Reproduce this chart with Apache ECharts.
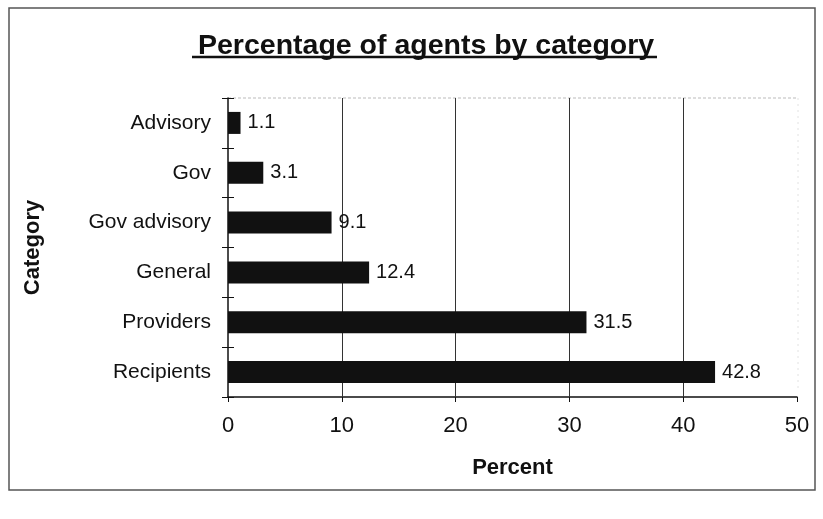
<!DOCTYPE html>
<html>
<head>
<meta charset="utf-8">
<script src="https://cdn.jsdelivr.net/npm/echarts@6/dist/echarts.min.js"></script>
<style>
  html, body { margin: 0; padding: 0; background: #fff; }
  #chart { width: 823px; height: 519px; }
</style>
</head>
<body>
<div id="chart"></div>
<script>
// Agent categories, top to bottom
const categories = ['Advisory', 'Gov', 'Gov advisory', 'General', 'Providers', 'Recipients'];
// Share of agents in each category (%)
const percents = [1.1, 3.1, 9.1, 12.4, 31.5, 42.8];
// Percent axis range
const xMin = 0;
const xMax = 50;
const xStep = 10;
// Vertical gridlines inside the plot (none at the right edge)
const gridValues = [10, 20, 30, 40];

const FONT = '"Liberation Sans", Arial, sans-serif';
const chart = echarts.init(document.getElementById('chart'));

chart.setOption({
  backgroundColor: '#ffffff',
  animation: false,
  title: {
    text: 'Percentage of agents by category',
    left: 193,
    top: 27,
    textStyle: { fontFamily: FONT, fontSize: 28.5, fontWeight: 'bold', color: '#111' }
  },
  graphic: [
    // outer frame of the chart
    { type: 'rect', shape: { x: 9, y: 8, width: 806, height: 482 },
      style: { fill: null, stroke: '#555', lineWidth: 1.5 } },
    // title underline
    { type: 'line', shape: { x1: 192, y1: 57, x2: 657, y2: 57 },
      style: { stroke: '#111', lineWidth: 2.5 } },
    // faint top and right edges of the plot area
    { type: 'line', shape: { x1: 228, y1: 98, x2: 798, y2: 98 },
      style: { stroke: '#bbb', lineWidth: 1, lineDash: [3, 2] } },
    { type: 'line', shape: { x1: 798, y1: 98, x2: 798, y2: 390 },
      style: { stroke: '#e2e2e2', lineWidth: 1, lineDash: [2, 4] } }
  ],
  grid: { left: 228, right: 26, top: 98, bottom: 122 },
  xAxis: {
    type: 'value',
    min: xMin, max: xMax, interval: xStep,
    name: 'Percent',
    nameLocation: 'middle',
    nameGap: 60,
    nameTextStyle: { fontFamily: FONT, fontSize: 22, fontWeight: 'bold', color: '#111' },
    axisLine: { show: true, lineStyle: { color: '#111', width: 1.5 } },
    axisTick: { show: true, length: 5, lineStyle: { color: '#111' } },
    axisLabel: { fontFamily: FONT, fontSize: 22, color: '#111', margin: 18 },
    splitLine: { show: false }
  },
  yAxis: [
    {
      type: 'category',
      data: categories,
      inverse: true,
      name: 'Category',
      nameLocation: 'middle',
      nameGap: 184,
      nameRotate: 90,
      nameTextStyle: { fontFamily: FONT, fontSize: 22, fontWeight: 'bold', color: '#111' },
      axisLine: { show: true, lineStyle: { color: '#111', width: 1.5 } },
      axisTick: { show: true, length: 6, lineStyle: { color: '#111' } },
      axisLabel: { fontFamily: FONT, fontSize: 21, color: '#111', margin: 17 },
      splitLine: { show: false }
    },
    {
      // inner half of the crossing category ticks
      type: 'category',
      data: categories,
      inverse: true,
      position: 'left',
      axisLine: { show: false },
      axisTick: { show: true, inside: true, length: 6, lineStyle: { color: '#111' } },
      axisLabel: { show: false },
      splitLine: { show: false }
    }
  ],
  series: [{
    type: 'bar',
    data: percents,
    barWidth: 22,
    z: 3,
    itemStyle: { color: '#111' },
    label: {
      show: true,
      position: 'right',
      distance: 7,
      fontFamily: FONT,
      fontSize: 20,
      color: '#111'
    },
    markLine: {
      silent: true,
      symbol: 'none',
      z: 1,
      label: { show: false },
      lineStyle: { color: '#333', width: 1, type: 'solid' },
      data: gridValues.map(v => ({ xAxis: v }))
    }
  }]
});
</script>
</body>
</html>
